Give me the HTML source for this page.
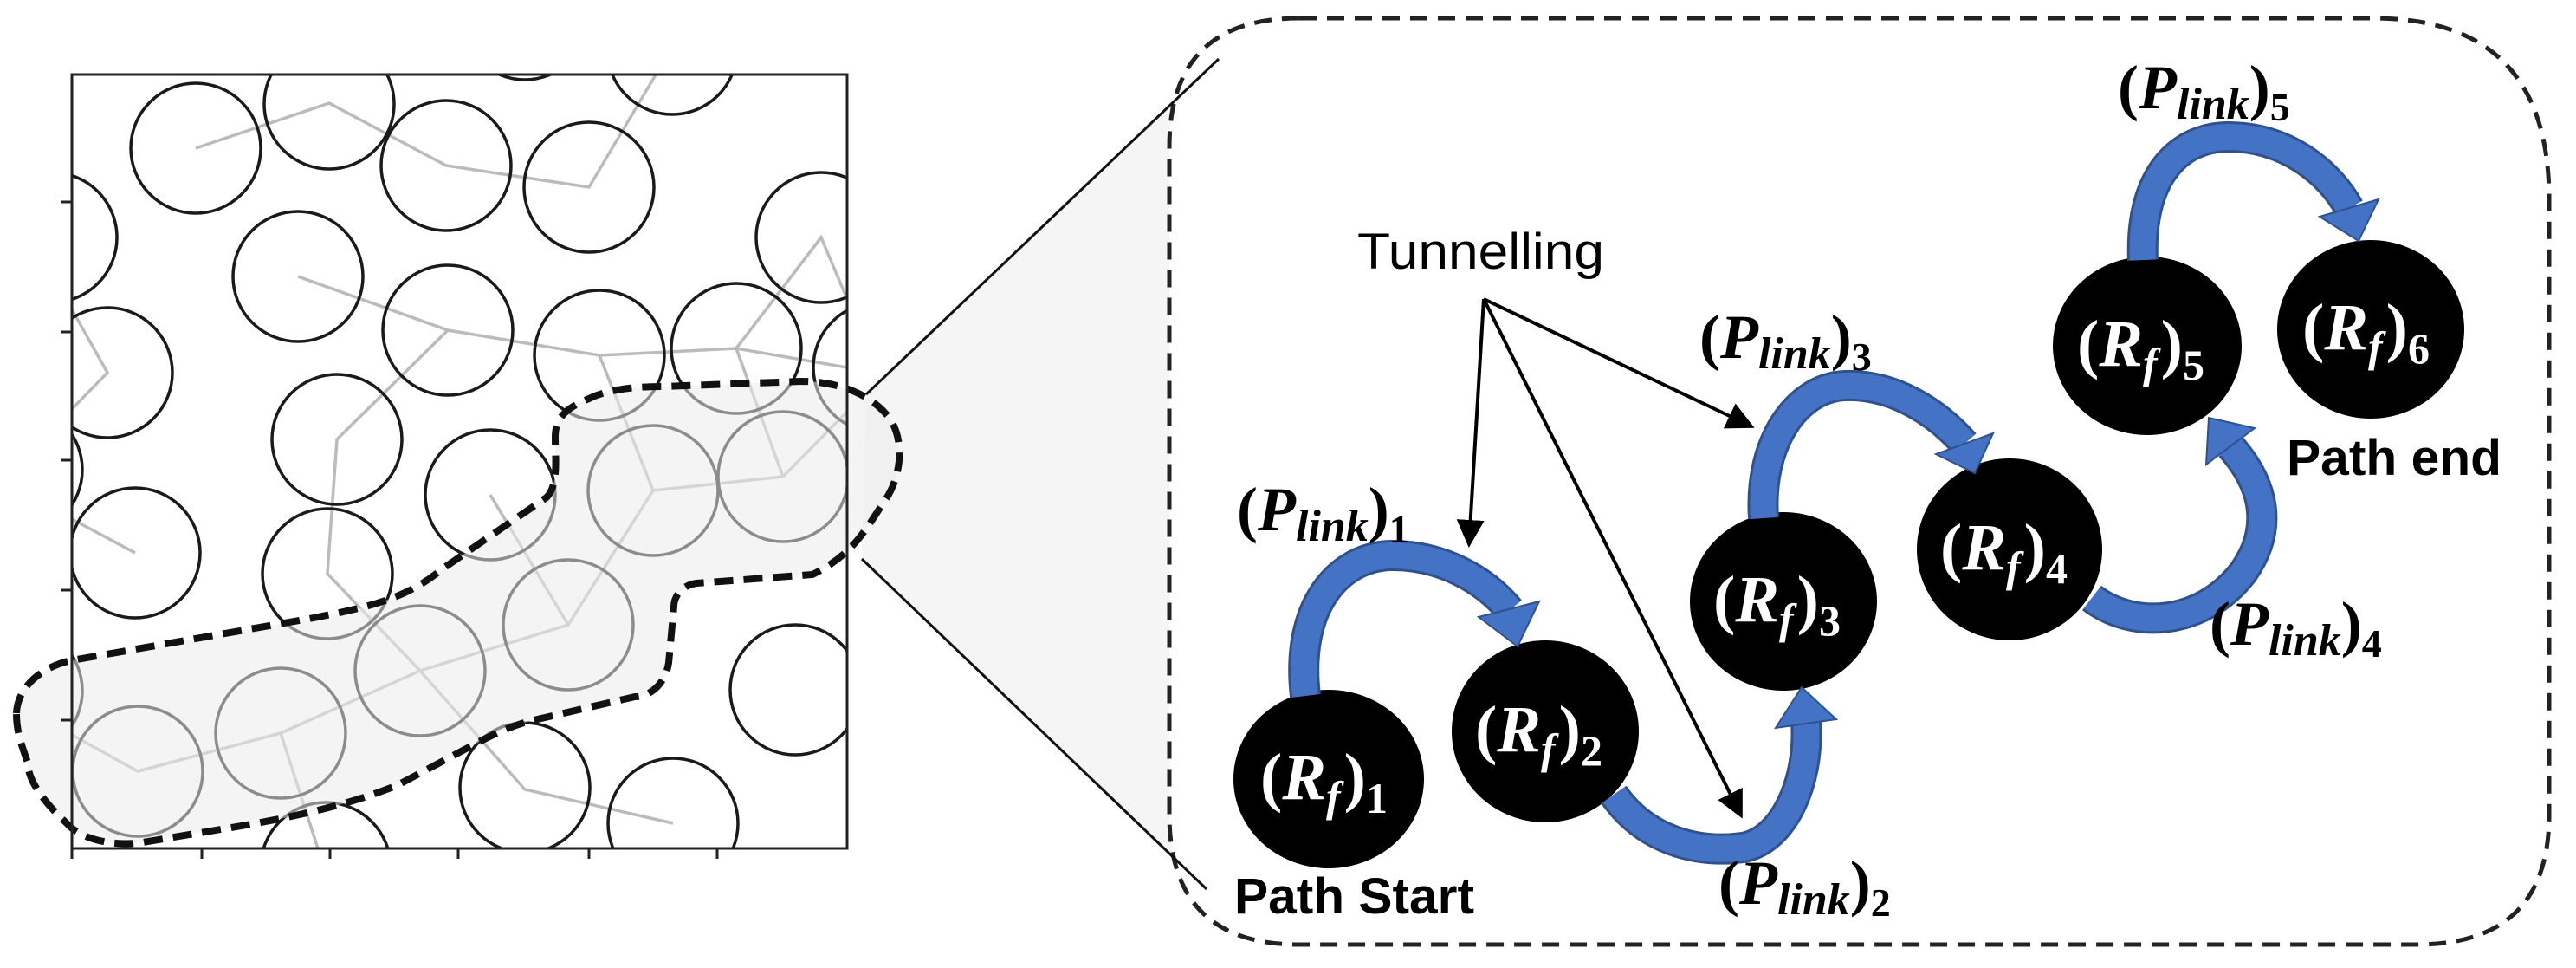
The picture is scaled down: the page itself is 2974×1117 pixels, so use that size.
<!DOCTYPE html>
<html><head><meta charset="utf-8"><style>html,body{margin:0;padding:0;background:#fff}svg{display:block}</style></head><body>
<svg width="2974" height="1117" viewBox="0 0 2974 1117" xmlns="http://www.w3.org/2000/svg">
<defs>
<clipPath id="pc"><rect x="83" y="86" width="895" height="893"/></clipPath>
<marker id="ah" markerWidth="8" markerHeight="8" refX="7" refY="4" orient="auto" markerUnits="strokeWidth"><path d="M0,0 L8,4 L0,8 z" fill="#000"/></marker>
</defs>
<rect width="2974" height="1117" fill="#fff"/>
<polygon points="1000,455 1407,68 1393,1026 995,645" fill="#f5f5f5"/>
<g clip-path="url(#pc)">
<g fill="none" stroke="#bbb" stroke-width="3.5">
<polyline points="226,171 380,119 515,191 680,216 759,83"/>
<polyline points="344,319 517,381 692,410 850,402 978,424"/>
<polyline points="850,402 948,274 978,345"/>
<polyline points="517,381 389,507 378,662 485,774 606,911 777,950"/>
<polyline points="692,410 754,566 904,550 978,475"/>
<polyline points="850,402 904,550"/>
<polyline points="754,566 656,721 566,571"/>
<polyline points="656,721 485,774 324,846 159,890 83,848"/>
<polyline points="324,846 367,979"/>
<polyline points="83,357 124,430 83,472"/>
<polyline points="83,599 156,638"/>
</g>
<g fill="none" stroke="#1a1a1a" stroke-width="3.5">
<circle cx="226" cy="171" r="75"/><circle cx="380" cy="120" r="75"/><circle cx="515" cy="191" r="75"/>
<circle cx="680" cy="216" r="75"/><circle cx="776" cy="57" r="75"/><circle cx="606" cy="17" r="75"/>
<circle cx="948" cy="274" r="75"/><circle cx="60" cy="274" r="75"/><circle cx="344" cy="319" r="75"/>
<circle cx="517" cy="381" r="75"/><circle cx="692" cy="410" r="75"/><circle cx="850" cy="402" r="75"/>
<circle cx="1014" cy="424" r="75"/><circle cx="124" cy="430" r="75"/><circle cx="389" cy="507" r="75"/>
<circle cx="566" cy="571" r="75"/><circle cx="754" cy="566" r="75"/><circle cx="904" cy="550" r="75"/>
<circle cx="156" cy="638" r="75"/><circle cx="378" cy="662" r="75"/><circle cx="656" cy="721" r="75"/>
<circle cx="485" cy="774" r="75"/><circle cx="324" cy="846" r="75"/><circle cx="159" cy="890" r="75"/>
<circle cx="918" cy="796" r="75"/><circle cx="606" cy="909" r="75"/><circle cx="777" cy="950" r="75"/>
<circle cx="376" cy="1001" r="75"/><circle cx="20" cy="542" r="75"/><circle cx="20" cy="797" r="75"/>
</g>
</g>
<path d="M19,823 C20,795 45,770 83,762 L357,714 C430,700 470,690 510,657 L631,574 C645,560 641,530 641,504 C641,485 650,472 680,460 C700,450 730,446 765,446 L925,440 C960,440 1000,450 1025,480 C1045,505 1042,550 1020,580 C1000,610 985,640 938,663 L804,673 C785,676 778,690 778,700 L772,765 C768,790 750,804 733,804 L612,832 C590,838 575,845 555,855 L459,906 C400,930 330,945 255,957 L159,973 C120,976 90,965 77,950 C50,925 32,900 32,880 C25,860 19,845 19,823 Z" fill="rgba(235,235,235,0.55)" stroke="#111" stroke-width="8" stroke-dasharray="22 12"/>
<rect x="83" y="86" width="895" height="893" fill="none" stroke="#222" stroke-width="3"/>
<g stroke="#222" stroke-width="3">
<line x1="70" y1="233" x2="83" y2="233"/><line x1="70" y1="383" x2="83" y2="383"/><line x1="70" y1="531" x2="83" y2="531"/><line x1="70" y1="681" x2="83" y2="681"/><line x1="70" y1="831" x2="83" y2="831"/>
<line x1="83" y1="979" x2="83" y2="991"/><line x1="233" y1="979" x2="233" y2="991"/><line x1="381" y1="979" x2="381" y2="991"/><line x1="529" y1="979" x2="529" y2="991"/><line x1="680" y1="979" x2="680" y2="991"/><line x1="828" y1="979" x2="828" y2="991"/>
</g>
<path d="M1500,21 L2740,21 Q2943,21 2943,230 L2943,940 Q2943,1090 2790,1090 L1500,1090 Q1350,1090 1350,940 L1350,170 Q1350,21 1500,21 Z" fill="#fff" stroke="#222" stroke-width="5" stroke-dasharray="20 12"/>
<line x1="1000" y1="455" x2="1407" y2="68" stroke="#111" stroke-width="3"/>
<line x1="995" y1="645" x2="1393" y2="1026" stroke="#111" stroke-width="3"/>
<g fill="#000">
<ellipse cx="1534" cy="899" rx="110" ry="103"/><ellipse cx="1784" cy="844" rx="108" ry="105"/>
<ellipse cx="2059" cy="694" rx="108" ry="103"/><ellipse cx="2320" cy="634" rx="107" ry="105"/>
<ellipse cx="2479" cy="399" rx="109" ry="103"/><ellipse cx="2737" cy="380" rx="108" ry="103"/>
</g>
<g font-family="Liberation Serif, serif" font-weight="bold" fill="#fff" font-size="76">
<text x="1455" y="922">(<tspan font-style="italic">R</tspan><tspan font-style="italic" font-size="50" dy="14">f</tspan><tspan dx="4" dy="-14">)</tspan><tspan font-size="50" dy="16">1</tspan></text>
<text x="1703" y="867">(<tspan font-style="italic">R</tspan><tspan font-style="italic" font-size="50" dy="14">f</tspan><tspan dx="4" dy="-14">)</tspan><tspan font-size="50" dy="16">2</tspan></text>
<text x="1978" y="717">(<tspan font-style="italic">R</tspan><tspan font-style="italic" font-size="50" dy="14">f</tspan><tspan dx="4" dy="-14">)</tspan><tspan font-size="50" dy="16">3</tspan></text>
<text x="2240" y="657">(<tspan font-style="italic">R</tspan><tspan font-style="italic" font-size="50" dy="14">f</tspan><tspan dx="4" dy="-14">)</tspan><tspan font-size="50" dy="16">4</tspan></text>
<text x="2398" y="422">(<tspan font-style="italic">R</tspan><tspan font-style="italic" font-size="50" dy="14">f</tspan><tspan dx="4" dy="-14">)</tspan><tspan font-size="50" dy="16">5</tspan></text>
<text x="2658" y="403">(<tspan font-style="italic">R</tspan><tspan font-style="italic" font-size="50" dy="14">f</tspan><tspan dx="4" dy="-14">)</tspan><tspan font-size="50" dy="16">6</tspan></text>
</g>
<g fill="none" stroke-linecap="butt">
<g stroke="#2F528F" stroke-width="36">
<path d="M1507,803 C1495,700 1545,643 1605,641 C1665,640 1715,670 1743,704"/>
<path d="M1863,917 C1900,970 1960,985 2012,978 C2060,970 2090,900 2085,832"/>
<path d="M2036,598 C2030,510 2075,447 2130,445 C2190,443 2240,480 2268,512"/>
<path d="M2415,690 C2460,725 2540,725 2590,660 C2625,610 2615,560 2575,515"/>
<path d="M2474,300 C2470,210 2510,160 2570,158 C2640,157 2690,200 2712,240"/>
</g>
<g stroke="#4472C4" stroke-width="30">
<path d="M1507,803 C1495,700 1545,643 1605,641 C1665,640 1715,670 1743,704"/>
<path d="M1863,917 C1900,970 1960,985 2012,978 C2060,970 2090,900 2085,832"/>
<path d="M2036,598 C2030,510 2075,447 2130,445 C2190,443 2240,480 2268,512"/>
<path d="M2415,690 C2460,725 2540,725 2590,660 C2625,610 2615,560 2575,515"/>
<path d="M2474,300 C2470,210 2510,160 2570,158 C2640,157 2690,200 2712,240"/>
</g>
</g>
<g fill="#4472C4" stroke="#2F528F" stroke-width="2">
<polygon points="1777,694 1707,712 1752,746"/>
<polygon points="2120,830 2050,840 2080,793"/>
<polygon points="2301,500 2235,524 2280,546"/>
<polygon points="2603,494 2547,536 2550,482"/>
<polygon points="2746,230 2678,250 2723,278"/>
</g>
<text x="1567" y="310" font-family="Liberation Sans, sans-serif" font-size="58" fill="#000" textLength="285" lengthAdjust="spacingAndGlyphs">Tunnelling</text>
<g stroke="#000" stroke-width="4" fill="none">
<line x1="1713" y1="345" x2="1696" y2="628" marker-end="url(#ah)"/>
<line x1="1713" y1="345" x2="2010" y2="941" marker-end="url(#ah)"/>
<line x1="1713" y1="345" x2="2022" y2="492" marker-end="url(#ah)"/>
</g>
<g font-family="Liberation Serif, serif" font-weight="bold" fill="#000" font-size="72">
<text x="1428" y="612">(<tspan font-style="italic">P</tspan><tspan font-style="italic" font-size="52" dy="12">link</tspan><tspan dy="-12">)</tspan><tspan font-size="46" dy="14">1</tspan></text>
<text x="1984" y="1043">(<tspan font-style="italic">P</tspan><tspan font-style="italic" font-size="52" dy="12">link</tspan><tspan dy="-12">)</tspan><tspan font-size="46" dy="14">2</tspan></text>
<text x="1962" y="413">(<tspan font-style="italic">P</tspan><tspan font-style="italic" font-size="52" dy="12">link</tspan><tspan dy="-12">)</tspan><tspan font-size="46" dy="14">3</tspan></text>
<text x="2551" y="744">(<tspan font-style="italic">P</tspan><tspan font-style="italic" font-size="52" dy="12">link</tspan><tspan dy="-12">)</tspan><tspan font-size="46" dy="14">4</tspan></text>
<text x="2445" y="125">(<tspan font-style="italic">P</tspan><tspan font-style="italic" font-size="52" dy="12">link</tspan><tspan dy="-12">)</tspan><tspan font-size="46" dy="14">5</tspan></text>
</g>
<g font-family="Liberation Sans, sans-serif" font-weight="bold" fill="#000" font-size="58">
<text x="1425" y="1054" textLength="277" lengthAdjust="spacingAndGlyphs">Path Start</text>
<text x="2640" y="548" textLength="248" lengthAdjust="spacingAndGlyphs">Path end</text>
</g>
</svg>
</body></html>
